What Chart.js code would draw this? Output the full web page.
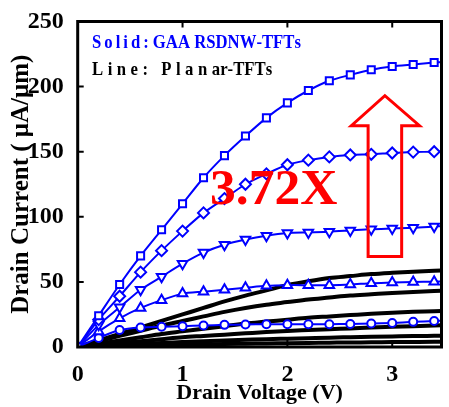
<!DOCTYPE html>
<html>
<head>
<meta charset="utf-8">
<script src="https://cdn.jsdelivr.net/npm/chart.js@4/dist/chart.umd.min.js"></script>
<style>
  html, body { margin: 0; padding: 0; background: #fff; }
</style>
</head>
<body>
<canvas id="ivChart" width="449" height="407"></canvas>
<script>
// Drain voltage sweep (V); last entry is where the curves meet the right frame
const drainVoltage = [0, 0.2, 0.4, 0.6, 0.8, 1.0, 1.2, 1.4, 1.6, 1.8, 2.0, 2.2, 2.4, 2.6, 2.8, 3.0, 3.2, 3.4, 3.5];

// GAA RSDNW-TFTs (solid markers), drain current in uA/um
const nwSquare   = [0, 24, 48, 70, 90, 110, 130, 147, 162, 176, 187.5, 197, 204.5, 209, 213, 215.5, 217, 218.5, 219];
const nwDiamond  = [0, 21, 39, 57.5, 74, 89, 103, 114, 125, 133, 140, 143.5, 146, 147.5, 148, 149, 149.7, 150, 150.2];
const nwDownTri  = [0, 17, 30.5, 44, 54, 64, 72.5, 78.5, 82.5, 85.5, 87.5, 88, 88.5, 89.5, 90.5, 91, 91.5, 92.5, 93];
const nwUpTri    = [0, 12, 22, 30, 36, 41, 42.5, 44, 45.5, 47, 47.5, 47.5, 47.5, 48, 49, 49.5, 50, 50.2, 50.4];
const nwCircle   = [0, 7, 13, 15, 15.5, 16, 16.5, 17, 17.3, 17.5, 17.5, 17.5, 17.5, 17.7, 18, 18.5, 19.3, 20, 20.3];

// Planar-TFTs (plain lines)
const planar1 = [0, 5, 10, 15, 20, 25, 30, 35, 39.5, 43.5, 47.5, 50.5, 53, 54.5, 56, 57, 57.8, 58.5, 58.8];
const planar2 = [0, 4.2, 8.5, 12.5, 16.5, 20, 23.5, 27, 30, 32.5, 34.5, 36.5, 38, 39.5, 40.5, 41.5, 42.3, 43, 43.3];
const planar3 = [0, 2.5, 5, 7.5, 10, 12, 14, 16, 18, 19.5, 21, 22.5, 23.5, 24.5, 25.5, 26.3, 27, 27.5, 27.8];
const planar4 = [0, 1.5, 3, 4.5, 6, 7.5, 8.5, 9.5, 10.5, 11.5, 12.3, 13, 13.7, 14.3, 15, 15.5, 16, 16.5, 16.7];
const planar5 = [0, 0.8, 1.6, 2.4, 3.1, 3.8, 4.4, 5, 5.5, 6, 6.4, 6.8, 7.2, 7.5, 7.8, 8.1, 8.4, 8.6, 8.7];
const planar6 = [0, 0.4, 0.8, 1.1, 1.4, 1.7, 2, 2.3, 2.5, 2.7, 2.9, 3.1, 3.3, 3.5, 3.6, 3.8, 3.9, 4, 4.1];

const xTicks = [0, 1, 2, 3];
const yTicks = [0, 50, 100, 150, 200, 250];

// enhancement arrow, in data units
const arrowShaft = [2.77, 3.09];
const arrowHead = [2.61, 3.26];
const arrowTip = [2.93, 193];
const arrowBase = 170;
const arrowBottom = 69.5;

const BLUE = '#0000ff';
const SERIF = "'Liberation Serif', 'Times New Roman', serif";
const lastIdx = drainVoltage.length - 1;

const pts = arr => drainVoltage.map((v, i) => ({ x: v, y: arr[i] }));

function nwSet(arr, style, radius, rotation) {
  return {
    data: pts(arr),
    borderColor: BLUE,
    borderWidth: 2,
    backgroundColor: '#fff',
    pointStyle: style,
    pointRotation: rotation || 0,
    pointRadius: c => (c.dataIndex === lastIdx ? 0 : radius),
    pointBorderWidth: 2,
    pointBorderColor: BLUE,
    pointBackgroundColor: '#fff',
    tension: 0.25
  };
}

function planarSet(arr) {
  return {
    data: pts(arr),
    borderColor: '#000',
    borderWidth: 4,
    pointRadius: 0,
    cubicInterpolationMode: 'monotone'
  };
}

// narrow bold text: each char squeezed by sx, then `spacing` px added after it
function narrowText(ctx, str, x, y, sx, spacing) {
  for (const ch of str) {
    ctx.save();
    ctx.translate(x, y);
    ctx.scale(sx, 1);
    ctx.fillText(ch, 0, 0);
    ctx.restore();
    x += ctx.measureText(ch).width * sx + spacing;
  }
  return x;
}

const decorations = {
  id: 'decorations',
  afterDraw(chart) {
    const { ctx, chartArea: a, scales: { x, y } } = chart;
    ctx.save();

    // frame + inward ticks
    ctx.strokeStyle = '#000';
    ctx.lineWidth = 3;
    ctx.strokeRect(a.left, a.top, a.right - a.left, a.bottom - a.top);
    ctx.lineWidth = 2;
    ctx.beginPath();
    xTicks.forEach(t => {
      if (t === 0) return;
      const px = x.getPixelForValue(t);
      ctx.moveTo(px, a.bottom); ctx.lineTo(px, a.bottom - 7);
      ctx.moveTo(px, a.top); ctx.lineTo(px, a.top + 6);
    });
    yTicks.forEach(t => {
      if (t === 0 || t === 250) return;
      const py = y.getPixelForValue(t);
      ctx.moveTo(a.left, py); ctx.lineTo(a.left + 6, py);
    });
    ctx.stroke();

    // arrow
    const X = v => x.getPixelForValue(v);
    const Y = v => y.getPixelForValue(v);
    ctx.strokeStyle = '#ff0000';
    ctx.lineWidth = 3;
    ctx.lineJoin = 'miter';
    ctx.beginPath();
    ctx.moveTo(X(arrowShaft[0]), Y(arrowBottom));
    ctx.lineTo(X(arrowShaft[0]), Y(arrowBase));
    ctx.lineTo(X(arrowHead[0]), Y(arrowBase));
    ctx.lineTo(X(arrowTip[0]), Y(arrowTip[1]));
    ctx.lineTo(X(arrowHead[1]), Y(arrowBase));
    ctx.lineTo(X(arrowShaft[1]), Y(arrowBase));
    ctx.lineTo(X(arrowShaft[1]), Y(arrowBottom));
    ctx.closePath();
    ctx.stroke();

    // ratio label
    ctx.fillStyle = '#ff0000';
    ctx.font = `bold 50px ${SERIF}`;
    ctx.textBaseline = 'alphabetic';
    narrowText(ctx, '3.72X', 210, 204, 1.03, 0);

    // key text
    ctx.font = `bold 19px ${SERIF}`;
    ctx.fillStyle = BLUE;
    let cx = narrowText(ctx, 'Solid:', 92, 48, 0.88, 3);
    narrowText(ctx, 'GAA RSDNW-TFTs', cx + 1, 48, 0.88, 0);

    ctx.fillStyle = '#000';
    cx = narrowText(ctx, 'Line: Plana', 92, 75, 0.88, 4.5);
    narrowText(ctx, 'r-TFTs', cx - 4.5, 75, 0.88, 0);

    ctx.restore();
  }
};

new Chart(document.getElementById('ivChart').getContext('2d'), {
  type: 'line',
  data: {
    datasets: [
      nwSet(nwSquare, 'rect', 5),
      nwSet(nwDiamond, 'rectRot', 5.5),
      nwSet(nwDownTri, 'triangle', 5.5, 180),
      nwSet(nwUpTri, 'triangle', 5.5),
      nwSet(nwCircle, 'circle', 4),
      planarSet(planar1),
      planarSet(planar2),
      planarSet(planar3),
      planarSet(planar4),
      planarSet(planar5),
      planarSet(planar6)
    ]
  },
  options: {
    responsive: false,
    animation: false,
    devicePixelRatio: 1,
    layout: { padding: { top: 21.5, right: 3, left: 0, bottom: 0 } },
    plugins: { legend: { display: false }, tooltip: { enabled: false } },
    scales: {
      x: {
        type: 'linear',
        min: 0,
        max: 3.47,
        afterFit: s => { s.height = 60; },
        grid: { display: false },
        border: { display: false },
        ticks: {
          stepSize: 1,
          includeBounds: false,
          padding: 5,
          color: '#000',
          font: { family: SERIF, size: 24, weight: 'bold' }
        },
        title: {
          display: true,
          text: 'Drain Voltage (V)',
          color: '#000',
          font: { family: SERIF, size: 22, weight: 'bold' },
          padding: { top: 1.8, bottom: 0 }
        }
      },
      y: {
        min: 0,
        max: 250,
        afterFit: s => { s.width = 77.7; },
        grid: { display: false },
        border: { display: false },
        ticks: {
          stepSize: 50,
          padding: 6,
          color: '#000',
          font: { family: SERIF, size: 24, weight: 'bold' }
        },
        title: {
          display: true,
          text: 'Drain Current ( μA/μm)',
          color: '#000',
          font: { family: SERIF, size: 25, weight: 'bold' },
          padding: { top: 7, bottom: 0 }
        }
      }
    }
  },
  plugins: [decorations]
});
</script>
</body>
</html>
